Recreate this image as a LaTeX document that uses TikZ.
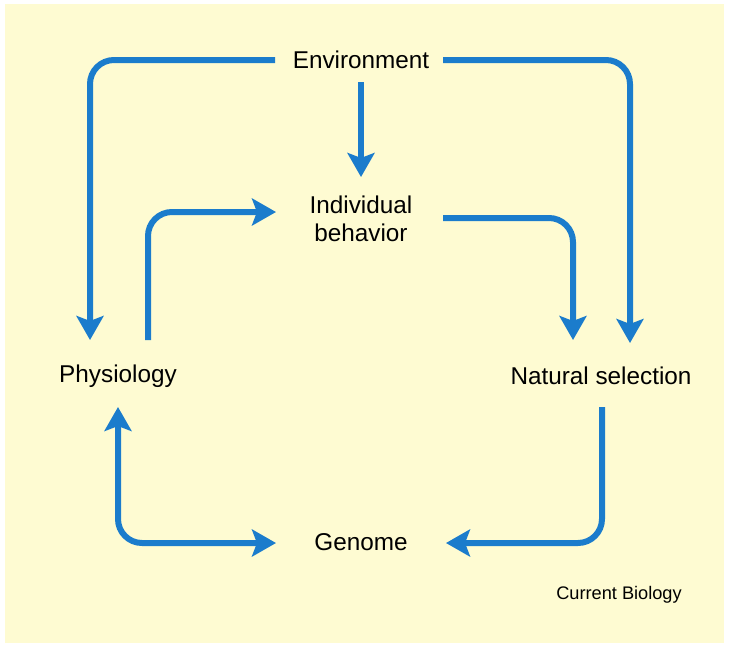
\documentclass[tikz,border=0pt]{standalone}
\usepackage{fontspec}
\setmainfont{Liberation Sans}
\usetikzlibrary{arrows.meta}
\definecolor{cream}{RGB}{254,251,210}
\definecolor{arrblue}{RGB}{27,124,204}
\begin{document}
\begin{tikzpicture}[x=1pt,y=-1pt,
  lbl/.style={inner sep=0pt, font=\fontsize{24.3}{28}\selectfont, align=center},
  arr/.style={draw=arrblue, line width=6pt, rounded corners=24pt,
    -{Stealth[length=24pt,width=27pt,inset=5pt]}},
  darr/.style={draw=arrblue, line width=6pt, rounded corners=24pt,
    {Stealth[length=24pt,width=27pt,inset=5pt]}-{Stealth[length=24pt,width=27pt,inset=5pt]}}]
\fill[white] (0,0) rectangle (729,649);
\fill[cream] (5,4) rectangle (724,643);
\useasboundingbox (0,0) rectangle (729,649);
\node[lbl] (env) at (361,60) {Environment};
\node[lbl] (ind) at (361,219) {Individual\\behavior};
\node[lbl] (phys) at (118,376) {Physiology};
\node[lbl] (nat) at (601,376) {Natural selection};
\node[lbl] (gen) at (361,542) {Genome};
\node[inner sep=0pt, font=\fontsize{18.2}{20}\selectfont] (cb) at (619,595) {Current Biology};
\draw[arr] ([shift={(-86,0)}]env.center) -| ([shift={(-28,-36)}]phys.center);
\draw[arr] ([shift={(82,0)}]env.center) -| ([shift={(29,-33)}]nat.center);
\draw[arr] ([shift={(0,22)}]env.center) -- ([shift={(0,-42)}]ind.center);
\draw[arr] ([shift={(30,-36)}]phys.center) |- ([shift={(-85,-7)}]ind.center);
\draw[arr] ([shift={(82,-1)}]ind.center) -| ([shift={(-28,-36)}]nat.center);
\draw[darr] ([shift={(0,31)}]phys.center) |- ([shift={(-85,1)}]gen.center);
\draw[arr] ([shift={(1,31)}]nat.center) |- ([shift={(85,1)}]gen.center);
\end{tikzpicture}
\end{document}
